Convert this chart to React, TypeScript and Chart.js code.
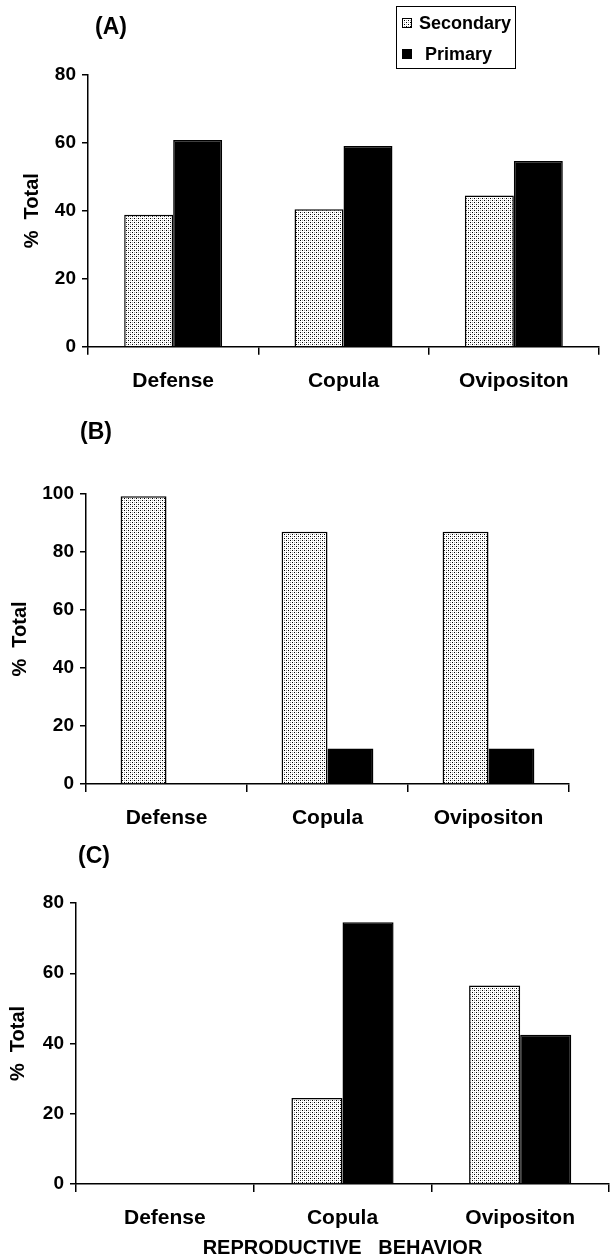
import React, { useEffect, useRef } from "react";
import { Chart, registerables } from "chart.js";

Chart.register(...registerables);

// ---------- data ----------
const categories = ["Defense", "Copula", "Ovipositon"];
const seriesLabels = ["Secondary", "Primary"];
const panelLetters = ["(A)", "(B)", "(C)"];

const secondaryA = [38.8, 40.4, 44.5];
const primaryA = [60.8, 59.0, 54.6];

const secondaryB = [99.2, 87.0, 87.0];
const primaryB = [0, 12.2, 12.2];

const secondaryC = [0, 24.5, 56.5];
const primaryC = [0, 74.5, 42.5];

const yMaxes = [80, 100, 80];
const yStep = 20;
const yTitle = "%  Total";
const xTitle = "REPRODUCTIVE   BEHAVIOR";

// ---------- layout (pixels) ----------
const FONT = "'Liberation Sans', Arial, Helvetica, sans-serif";

type Layout = {
  top: number;
  height: number;
  left: number;
  right: number;
  plotTop: number;
  plotBottom: number;
  letterX: number;
  letterY: number;
  yTitleX: number;
  catPct: number;
  legend: boolean;
  xTitle: boolean;
};

const layouts: Layout[] = [
  { top: 0, height: 410, left: 88, right: 599, plotTop: 74.7, plotBottom: 346.7, letterX: 95, letterY: 28, yTitleX: 32, catPct: 0.575, legend: true, xTitle: false },
  { top: 410, height: 430, left: 86, right: 569, plotTop: 84, plotBottom: 374, letterX: 80, letterY: 23, yTitleX: 20, catPct: 0.57, legend: false, xTitle: false },
  { top: 840, height: 418, left: 76, right: 609, plotTop: 63, plotBottom: 344, letterX: 78, letterY: 17, yTitleX: 18, catPct: 0.575, legend: false, xTitle: true },
];

function makePattern(): CanvasPattern | string {
  const c = document.createElement("canvas");
  c.width = 4;
  c.height = 4;
  const g = c.getContext("2d");
  if (!g) return "#ddd";
  g.fillStyle = "#ffffff";
  g.fillRect(0, 0, 4, 4);
  g.fillStyle = "#000000";
  g.fillRect(0, 0, 1, 1);
  g.fillRect(2, 2, 1, 1);
  g.fillStyle = "#a8a8a8";
  g.fillRect(2, 0, 1, 1);
  g.fillRect(0, 2, 1, 1);
  const p = g.createPattern(c, "repeat");
  return p || "#ddd";
}

function Panel({ index, secondary, primary }: { index: number; secondary: number[]; primary: number[] }) {
  const ref = useRef<HTMLCanvasElement | null>(null);
  const L = layouts[index];

  useEffect(() => {
    if (!ref.current) return;
    const pattern = makePattern();

    const letterPlugin = {
      id: "letter" + index,
      afterDraw(chart: any) {
        const ctx = chart.ctx;
        ctx.save();
        ctx.fillStyle = "#000";
        ctx.font = `bold 23px ${FONT}`;
        ctx.textBaseline = "middle";
        ctx.textAlign = "left";
        ctx.fillText(panelLetters[index], L.letterX, L.letterY);

        if (L.legend) {
          const bx = 396, by = 6, bw = 119, bh = 62;
          ctx.fillStyle = "#fff";
          ctx.fillRect(bx, by, bw, bh);
          ctx.strokeStyle = "#000";
          ctx.lineWidth = 1;
          ctx.strokeRect(bx + 0.5, by + 0.5, bw, bh);
          const rows = [
            { y: 23, fill: pattern, textX: 419 },
            { y: 54, fill: "#000", textX: 425 },
          ];
          ctx.font = `bold 18px ${FONT}`;
          rows.forEach((r, i) => {
            ctx.fillStyle = r.fill as any;
            ctx.fillRect(402, r.y - 5, 10, 10);
            ctx.strokeStyle = "#000";
            ctx.lineWidth = 1;
            ctx.strokeRect(402.5, r.y - 4.5, 9, 9);
            ctx.fillStyle = "#000";
            ctx.fillText(seriesLabels[i], r.textX, r.y + 1);
          });
        }
        ctx.restore();
      },
    };

    const tickFont = { family: FONT, size: 19, weight: "bold" as const };
    const catFont = { family: FONT, size: 21, weight: "bold" as const };
    const titleFont = { family: FONT, size: 20, weight: "bold" as const, lineHeight: 1.2 };

    const chart = new Chart(ref.current, {
      type: "bar",
      data: {
        labels: categories,
        datasets: [
          {
            label: seriesLabels[0],
            data: secondary,
            backgroundColor: pattern as any,
            borderColor: "#000",
            borderWidth: 1.5,
            barPercentage: 1,
            categoryPercentage: L.catPct,
          },
          {
            label: seriesLabels[1],
            data: primary,
            backgroundColor: "#000",
            borderColor: "#000",
            borderWidth: 1.5,
            barPercentage: 1,
            categoryPercentage: L.catPct,
          },
        ],
      },
      options: {
        animation: false,
        responsive: false,
        devicePixelRatio: 1,
        layout: { padding: { top: L.plotTop, right: 610 - L.right, bottom: 0, left: 0 } },
        plugins: {
          legend: { display: false },
          tooltip: { enabled: false },
          title: { display: false },
        },
        scales: {
          x: {
            type: "category",
            offset: true,
            grid: {
              offset: true,
              drawOnChartArea: false,
              drawTicks: true,
              tickLength: 8,
              color: "#000",
              lineWidth: 1.5,
            },
            border: { display: true, color: "#000", width: 1.5 },
            ticks: {
              color: "#000",
              font: catFont,
              padding: 14,
              maxRotation: 0,
              autoSkip: false,
            },
            title: {
              display: L.xTitle,
              text: xTitle,
              color: "#000",
              font: { family: FONT, size: 20, weight: "bold" as const, lineHeight: 1 },
              padding: { top: 0, bottom: 0 },
            },
            afterFit: (s: any) => {
              s.height = L.height - L.plotBottom;
            },
          },
          y: {
            min: 0,
            max: yMaxes[index],
            ticks: {
              stepSize: yStep,
              color: "#000",
              font: tickFont,
              padding: 6,
            },
            grid: {
              drawOnChartArea: false,
              drawTicks: true,
              tickLength: 6,
              color: "#000",
              lineWidth: 1.5,
            },
            border: { display: true, color: "#000", width: 1.5 },
            title: {
              display: true,
              text: yTitle,
              color: "#000",
              font: titleFont,
              padding: { top: L.yTitleX - 12, bottom: 0 },
            },
            afterFit: (s: any) => {
              s.width = L.left;
            },
          },
        },
      },
      plugins: [letterPlugin],
    });

    return () => chart.destroy();
  }, [index, secondary, primary]);

  return (
    <canvas
      ref={ref}
      width={610}
      height={L.height}
      style={{ position: "absolute", left: 0, top: L.top, width: 610, height: L.height }}
    />
  );
}

export default function App() {
  return (
    <div style={{ position: "absolute", left: 0, top: 0, width: 610, height: 1258, background: "#fff" }}>
      <Panel index={0} secondary={secondaryA} primary={primaryA} />
      <Panel index={1} secondary={secondaryB} primary={primaryB} />
      <Panel index={2} secondary={secondaryC} primary={primaryC} />
    </div>
  );
}
